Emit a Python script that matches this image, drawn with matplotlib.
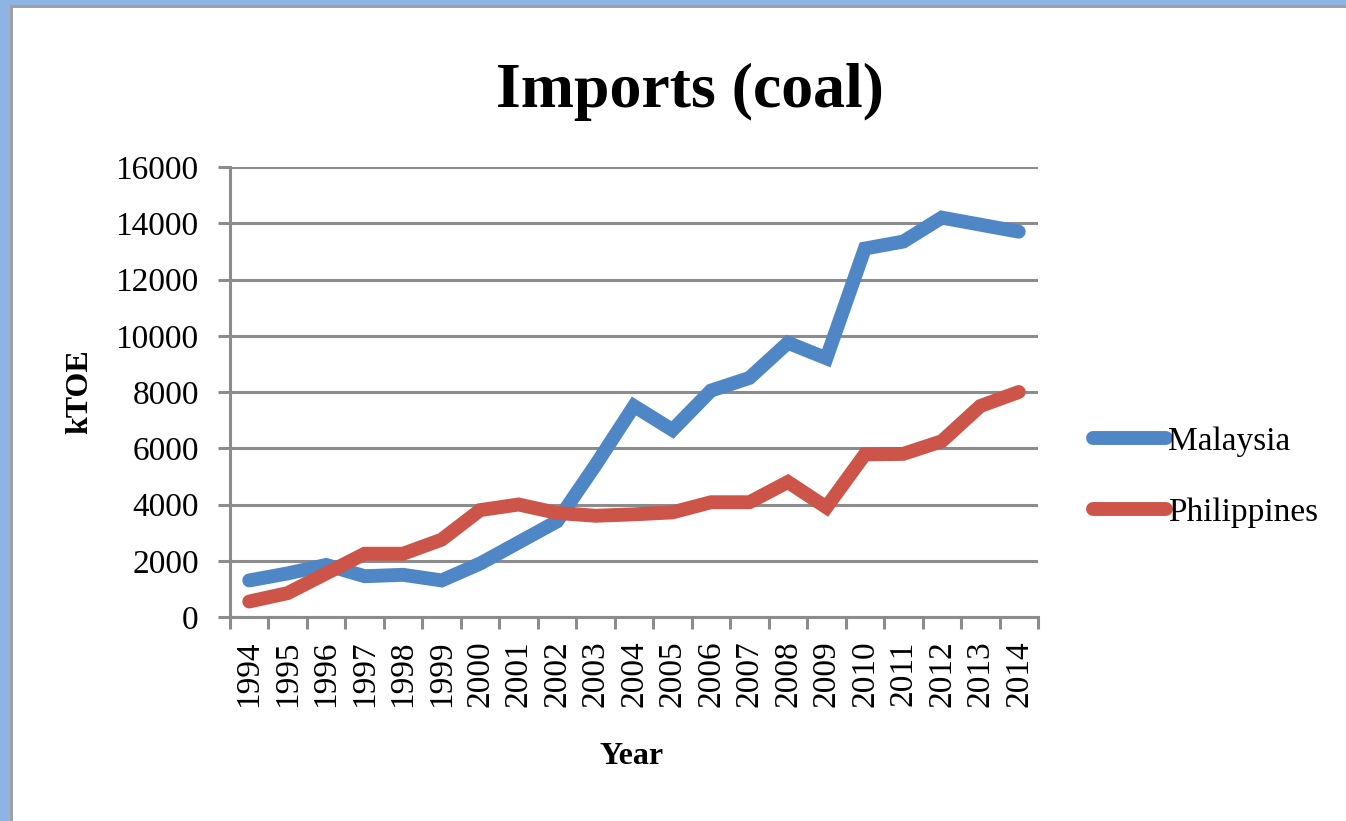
import matplotlib
matplotlib.use("Agg")
import matplotlib.pyplot as plt
from matplotlib.patches import Rectangle
from matplotlib.lines import Line2D

years = [str(y) for y in range(1994, 2015)]
malaysia = [1300, 1550, 1850, 1450, 1500, 1300, 1900, 2650, 3400, 5400, 7500,
            6650, 8050, 8500, 9750, 9200, 13100, 13350, 14200, 13950, 13700]
philippines = [550, 850, 1550, 2250, 2250, 2750, 3800, 4000, 3700, 3600, 3650,
               3720, 4080, 4080, 4800, 3900, 5780, 5800, 6250, 7500, 8000]
series_names = ["Malaysia", "Philippines"]
y_ticks = [0, 2000, 4000, 6000, 8000, 10000, 12000, 14000, 16000]

plt.rcParams['font.family'] = ['Liberation Serif', 'DejaVu Serif']

W, H = 1346, 821
fig = plt.figure(figsize=(W / 100, H / 100), dpi=100)
fig.patch.set_facecolor('white')

# frame (blue strip + gray line)
fig.patches.append(Rectangle((0, 0), 10 / W, 1, transform=fig.transFigure,
                             facecolor='#8DB4E2', edgecolor='none', zorder=0))
fig.patches.append(Rectangle((0, 1 - 5 / H), 1, 5 / H, transform=fig.transFigure,
                             facecolor='#8DB4E2', edgecolor='none', zorder=0))
fig.patches.append(Rectangle((10 / W, 0), 3 / W, 1 - 5 / H, transform=fig.transFigure,
                             facecolor='#A0A0A0', edgecolor='none', zorder=0))
fig.patches.append(Rectangle((10 / W, 1 - 8 / H), 1 - 10 / W, 3 / H, transform=fig.transFigure,
                             facecolor='#A0A0A0', edgecolor='none', zorder=0))

ax = fig.add_axes([230 / W, 1 - 617 / H, (1038 - 230) / W, (617 - 167) / H])
ax.set_facecolor('white')

blue = '#4E86C6'
red = '#CC5449'
grid_c = '#8C8C8C'
lw = 10

x = list(range(len(years)))
ax.plot(x, malaysia, color=blue, lw=lw, solid_capstyle='round', solid_joinstyle='miter', zorder=3)
ax.plot(x, philippines, color=red, lw=lw, solid_capstyle='round', solid_joinstyle='miter', zorder=3)

ax.set_xlim(-0.5, len(years) - 0.5)
ax.set_ylim(0, 16000)

ax.set_yticks(y_ticks)
ax.set_yticklabels([str(v) for v in y_ticks])
ax.yaxis.grid(True, color=grid_c, lw=2.2, zorder=1)
ax.set_axisbelow(True)
ax.tick_params(axis='y', direction='out', length=8.5, width=2.2, color=grid_c,
               labelsize=24, pad=14, labelcolor='black')

ax.set_xticks([i - 0.5 for i in range(len(years) + 1)])
ax.set_xticklabels([])
ax.set_xticks(x, minor=True)
ax.set_xticklabels(years, minor=True, rotation=90)
ax.tick_params(axis='x', which='major', direction='out', length=8.5, width=2.2, color=grid_c)
ax.tick_params(axis='x', which='minor', length=0, labelsize=24, pad=17, labelcolor='black')
for lab in ax.get_xticklabels(minor=True):
    lab.set_va('top')

for s in ['top', 'right']:
    ax.spines[s].set_visible(False)
for s in ['left', 'bottom']:
    ax.spines[s].set_color(grid_c)
    ax.spines[s].set_linewidth(2.2)

fig.text(690 / W, 1 - 92 / H, "Imports (coal)", ha='center', va='center',
         fontsize=46, fontweight='bold')
fig.text(80 / W, 1 - 392 / H, "kTOE", ha='center', va='center', rotation=90,
         fontsize=23, fontweight='bold')
fig.text(632 / W, 1 - 757 / H, "Year", ha='center', va='center',
         fontsize=23, fontweight='bold')

handles = [Line2D([], [], color=blue, lw=lw, solid_capstyle='round'),
           Line2D([], [], color=red, lw=lw, solid_capstyle='round')]
fig.legend(handles, series_names, loc='center left',
           bbox_to_anchor=(1093 / W, 1 - 477 / H), bbox_transform=fig.transFigure,
           frameon=False, fontsize=24, handlelength=2.2, handletextpad=0.05,
           labelspacing=1.2, borderpad=0, borderaxespad=0)

fig.savefig("out.png", dpi=100, facecolor='white')
